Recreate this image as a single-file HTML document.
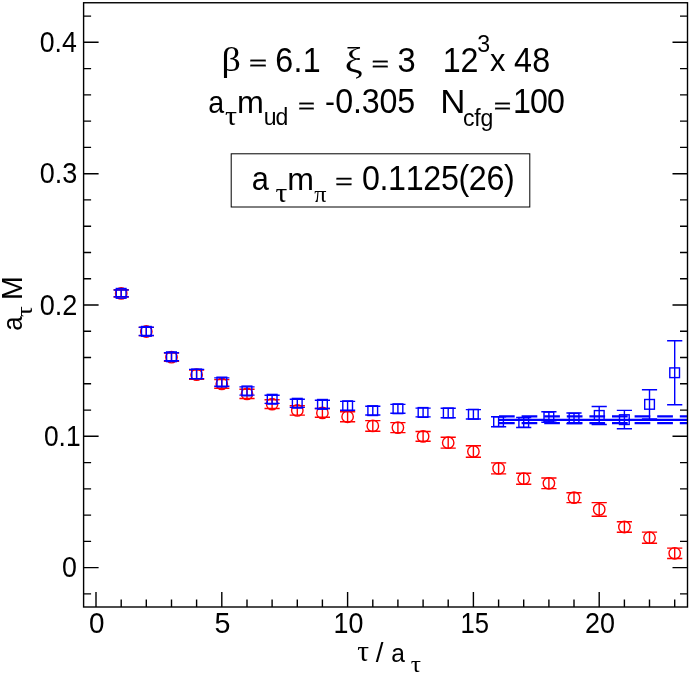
<!DOCTYPE html>
<html><head><meta charset="utf-8"><title>plot</title>
<style>
html,body{margin:0;padding:0;background:#fff;}
svg{display:block;will-change:transform;}
text{font-family:"Liberation Sans",sans-serif;fill:#000;font-kerning:none;}
.sy{font-family:"Liberation Serif",serif;}
.eq{stroke:#000;stroke-width:0.55px;}
</style></head><body>
<svg width="692" height="675" viewBox="0 0 692 675">
<rect x="0" y="0" width="692" height="675" fill="#fff"/>
<g stroke="#ff0000" stroke-width="1.4" fill="none">
<path d="M121.2 289.8V297.0M113.6 289.8H128.8M113.6 297.0H128.8"/>
<circle cx="121.2" cy="293.4" r="5.7"/>
<path d="M146.3 327.4V335.6M138.7 327.4H153.9M138.7 335.6H153.9"/>
<circle cx="146.3" cy="331.5" r="5.7"/>
<path d="M171.5 353.0V361.4M163.9 353.0H179.1M163.9 361.4H179.1"/>
<circle cx="171.5" cy="357.2" r="5.7"/>
<path d="M196.6 370.1V379.3M189.0 370.1H204.2M189.0 379.3H204.2"/>
<circle cx="196.6" cy="374.7" r="5.7"/>
<path d="M221.8 379.6V388.2M214.2 379.6H229.4M214.2 388.2H229.4"/>
<circle cx="221.8" cy="383.9" r="5.7"/>
<path d="M247.0 389.3V398.5M239.4 389.3H254.6M239.4 398.5H254.6"/>
<circle cx="247.0" cy="393.9" r="5.7"/>
<path d="M272.1 399.7V408.5M264.5 399.7H279.7M264.5 408.5H279.7"/>
<circle cx="272.1" cy="404.1" r="5.7"/>
<path d="M297.3 405.7V415.1M289.7 405.7H304.9M289.7 415.1H304.9"/>
<circle cx="297.3" cy="410.4" r="5.7"/>
<path d="M322.4 408.5V417.3M314.8 408.5H330.0M314.8 417.3H330.0"/>
<circle cx="322.4" cy="412.9" r="5.7"/>
<path d="M347.6 411.8V421.8M340.0 411.8H355.2M340.0 421.8H355.2"/>
<circle cx="347.6" cy="416.8" r="5.7"/>
<path d="M372.8 420.6V431.2M365.2 420.6H380.4M365.2 431.2H380.4"/>
<circle cx="372.8" cy="425.9" r="5.7"/>
<path d="M397.9 422.6V432.6M390.3 422.6H405.5M390.3 432.6H405.5"/>
<circle cx="397.9" cy="427.6" r="5.7"/>
<path d="M423.1 431.5V441.3M415.5 431.5H430.7M415.5 441.3H430.7"/>
<circle cx="423.1" cy="436.4" r="5.7"/>
<path d="M448.2 437.3V448.1M440.6 437.3H455.8M440.6 448.1H455.8"/>
<circle cx="448.2" cy="442.7" r="5.7"/>
<path d="M473.4 445.7V457.3M465.8 445.7H481.0M465.8 457.3H481.0"/>
<circle cx="473.4" cy="451.5" r="5.7"/>
<path d="M498.6 462.9V473.9M491.0 462.9H506.2M491.0 473.9H506.2"/>
<circle cx="498.6" cy="468.4" r="5.7"/>
<path d="M523.7 473.2V484.2M516.1 473.2H531.3M516.1 484.2H531.3"/>
<circle cx="523.7" cy="478.7" r="5.7"/>
<path d="M548.9 478.0V488.6M541.3 478.0H556.5M541.3 488.6H556.5"/>
<circle cx="548.9" cy="483.3" r="5.7"/>
<path d="M574.0 492.8V502.6M566.4 492.8H581.6M566.4 502.6H581.6"/>
<circle cx="574.0" cy="497.7" r="5.7"/>
<path d="M599.2 502.6V516.2M591.6 502.6H606.8M591.6 516.2H606.8"/>
<circle cx="599.2" cy="509.4" r="5.7"/>
<path d="M624.4 521.8V532.2M616.8 521.8H632.0M616.8 532.2H632.0"/>
<circle cx="624.4" cy="527.0" r="5.7"/>
<path d="M649.5 532.1V543.3M641.9 532.1H657.1M641.9 543.3H657.1"/>
<circle cx="649.5" cy="537.7" r="5.7"/>
<path d="M674.7 548.1V558.5M667.1 548.1H682.3M667.1 558.5H682.3"/>
<circle cx="674.7" cy="553.3" r="5.7"/>
</g>
<g stroke="#0000ff" stroke-width="1.4" fill="none">
<path d="M121.2 290.0V296.8M113.6 290.0H128.8M113.6 296.8H128.8"/>
<rect x="116.3" y="288.5" width="9.7" height="9.7"/>
<path d="M146.3 327.3V335.5M138.7 327.3H153.9M138.7 335.5H153.9"/>
<rect x="141.5" y="326.5" width="9.7" height="9.7"/>
<path d="M171.5 352.8V360.8M163.9 352.8H179.1M163.9 360.8H179.1"/>
<rect x="166.6" y="351.9" width="9.7" height="9.7"/>
<path d="M196.6 369.4V378.6M189.0 369.4H204.2M189.0 378.6H204.2"/>
<rect x="191.8" y="369.1" width="9.7" height="9.7"/>
<path d="M221.8 377.9V386.3M214.2 377.9H229.4M214.2 386.3H229.4"/>
<rect x="217.0" y="377.2" width="9.7" height="9.7"/>
<path d="M247.0 386.9V395.1M239.4 386.9H254.6M239.4 395.1H254.6"/>
<rect x="242.1" y="386.1" width="9.7" height="9.7"/>
<path d="M272.1 395.2V403.4M264.5 395.2H279.7M264.5 403.4H279.7"/>
<rect x="267.3" y="394.4" width="9.7" height="9.7"/>
<path d="M297.3 399.2V407.4M289.7 399.2H304.9M289.7 407.4H304.9"/>
<rect x="292.4" y="398.4" width="9.7" height="9.7"/>
<path d="M322.4 400.3V408.5M314.8 400.3H330.0M314.8 408.5H330.0"/>
<rect x="317.6" y="399.5" width="9.7" height="9.7"/>
<path d="M347.6 401.4V410.2M340.0 401.4H355.2M340.0 410.2H355.2"/>
<rect x="342.8" y="400.9" width="9.7" height="9.7"/>
<path d="M372.8 406.2V415.0M365.2 406.2H380.4M365.2 415.0H380.4"/>
<rect x="367.9" y="405.8" width="9.7" height="9.7"/>
<path d="M397.9 404.4V413.2M390.3 404.4H405.5M390.3 413.2H405.5"/>
<rect x="393.1" y="403.9" width="9.7" height="9.7"/>
<path d="M423.1 408.1V416.9M415.5 408.1H430.7M415.5 416.9H430.7"/>
<rect x="418.2" y="407.6" width="9.7" height="9.7"/>
<path d="M448.2 408.2V417.8M440.6 408.2H455.8M440.6 417.8H455.8"/>
<rect x="443.4" y="408.1" width="9.7" height="9.7"/>
<path d="M473.4 409.6V419.0M465.8 409.6H481.0M465.8 419.0H481.0"/>
<rect x="468.5" y="409.4" width="9.7" height="9.7"/>
<path d="M498.6 416.7V426.7M491.0 416.7H506.2M491.0 426.7H506.2"/>
<rect x="493.7" y="416.8" width="9.7" height="9.7"/>
<path d="M523.7 417.5V427.5M516.1 417.5H531.3M516.1 427.5H531.3"/>
<rect x="518.9" y="417.6" width="9.7" height="9.7"/>
<path d="M548.9 411.7V422.3M541.3 411.7H556.5M541.3 422.3H556.5"/>
<rect x="544.0" y="412.1" width="9.7" height="9.7"/>
<path d="M574.0 413.0V423.6M566.4 413.0H581.6M566.4 423.6H581.6"/>
<rect x="569.2" y="413.4" width="9.7" height="9.7"/>
<path d="M599.2 406.5V424.5M591.6 406.5H606.8M591.6 424.5H606.8"/>
<rect x="594.4" y="410.6" width="9.7" height="9.7"/>
<path d="M624.4 410.4V428.8M616.8 410.4H632.0M616.8 428.8H632.0"/>
<rect x="619.5" y="414.8" width="9.7" height="9.7"/>
<path d="M649.5 389.8V419.0M641.9 389.8H657.1M641.9 419.0H657.1"/>
<rect x="644.7" y="399.5" width="9.7" height="9.7"/>
<path d="M674.7 340.8V404.8M667.1 340.8H682.3M667.1 404.8H682.3"/>
<rect x="669.8" y="367.9" width="9.7" height="9.7"/>
</g>
<g stroke="#0000ff" stroke-width="2.2" fill="none">
<path d="M498.6 419.8H687.5"/>
<path d="M499.0 416.4H687.5M499.0 423.2H687.5" stroke-dasharray="15.7 6.9"/>
</g>
<g stroke="#000" stroke-width="1.4" fill="none">
<rect x="83.6" y="2.75" width="603.9" height="604.25"/>
<path d="M83.6 593.9h7.5M687.5 593.9h-7.5M83.6 567.6h15M687.5 567.6h-15M83.6 541.4h7.5M687.5 541.4h-7.5M83.6 515.1h7.5M687.5 515.1h-7.5M83.6 488.9h7.5M687.5 488.9h-7.5M83.6 462.6h7.5M687.5 462.6h-7.5M83.6 436.3h15M687.5 436.3h-15M83.6 410.1h7.5M687.5 410.1h-7.5M83.6 383.8h7.5M687.5 383.8h-7.5M83.6 357.5h7.5M687.5 357.5h-7.5M83.6 331.3h7.5M687.5 331.3h-7.5M83.6 305.0h15M687.5 305.0h-15M83.6 278.7h7.5M687.5 278.7h-7.5M83.6 252.5h7.5M687.5 252.5h-7.5M83.6 226.2h7.5M687.5 226.2h-7.5M83.6 199.9h7.5M687.5 199.9h-7.5M83.6 173.7h15M687.5 173.7h-15M83.6 147.4h7.5M687.5 147.4h-7.5M83.6 121.1h7.5M687.5 121.1h-7.5M83.6 94.9h7.5M687.5 94.9h-7.5M83.6 68.6h7.5M687.5 68.6h-7.5M83.6 42.3h15M687.5 42.3h-15M83.6 16.1h7.5M687.5 16.1h-7.5M96.0 607.0v-15M121.2 607.0v-7.5M146.3 607.0v-7.5M171.5 607.0v-7.5M196.6 607.0v-7.5M221.8 607.0v-15M247.0 607.0v-7.5M272.1 607.0v-7.5M297.3 607.0v-7.5M322.4 607.0v-7.5M347.6 607.0v-15M372.8 607.0v-7.5M397.9 607.0v-7.5M423.1 607.0v-7.5M448.2 607.0v-7.5M473.4 607.0v-15M498.6 607.0v-7.5M523.7 607.0v-7.5M548.9 607.0v-7.5M574.0 607.0v-7.5M599.2 607.0v-15M624.4 607.0v-7.5M649.5 607.0v-7.5M674.7 607.0v-7.5"/>
</g>
<text transform="translate(39.69 314.50) scale(0.9358 1.0000)" font-size="29">0.2</text>
<text transform="translate(39.70 183.18) scale(0.9312 1.0000)" font-size="29">0.3</text>
<text transform="translate(39.71 51.85) scale(0.9209 1.0000)" font-size="29">0.4</text>
<text transform="translate(43.92 445.82) scale(0.9100 1.0000)" font-size="29">0.1</text>
<text transform="translate(62.00 577.15) scale(0.9233 1.0000)" font-size="29">0</text>
<text transform="translate(89.06 633.30) scale(0.9594 1.0000)" font-size="29">0</text>
<text transform="translate(214.50 633.30) scale(0.9891 1.0000)" font-size="29">5</text>
<text transform="translate(333.50 633.30) scale(0.9269 1.0000)" font-size="29">10</text>
<text transform="translate(460.60 633.30) scale(0.8845 1.0000)" font-size="29">15</text>
<text transform="translate(585.09 633.30) scale(0.9304 1.0000)" font-size="29">20</text>
<text class="sy" transform="translate(357.21 661.47) scale(1.0668 1.0473)" font-size="27.5">τ</text>
<text transform="translate(375.75 661.88) scale(1.0078 1.0002)" font-size="27.5">/</text>
<text transform="translate(391.21 661.50) scale(0.8920 0.9492)" font-size="27.5">a</text>
<text class="sy" transform="translate(410.69 671.93) scale(1.2713 1.1413)" font-size="20">τ</text>
<g transform="translate(21.5 0) rotate(-90)">
<text transform="translate(-330.65 0.48) scale(0.9415 1.0023)" font-size="27.5">a</text>
<text class="sy" transform="translate(-316.95 10.72) scale(1.3551 1.1840)" font-size="20">τ</text>
<text transform="translate(-299.99 0.55) scale(1.0383 1.0677)" font-size="27.5">M</text>
</g>
<text class="sy" transform="translate(221.60 70.91) scale(1.1100 0.9920)" font-size="34.3">β</text>
<text class="eq" transform="translate(249.08 70.29) scale(0.9061 0.5971)" font-size="34.3">=</text>
<text style="letter-spacing:0.30px" transform="translate(275.21 71.50) scale(0.9400 1.0000)" font-size="34.3">6.1</text>
<text class="sy" transform="translate(344.69 71.79) scale(1.1680 1.0490)" font-size="34.3">ξ</text>
<text class="eq" transform="translate(371.43 70.54) scale(0.8761 0.6061)" font-size="34.3">=</text>
<text transform="translate(397.50 71.71) scale(0.9531 1.0212)" font-size="34.3">3</text>
<text style="letter-spacing:-0.09px" transform="translate(442.69 71.50) scale(0.9400 1.0000)" font-size="34.3">12</text>
<text transform="translate(477.17 52.22) scale(0.9470 0.9570)" font-size="24.5">3</text>
<text transform="translate(489.90 70.85) scale(0.8965 0.9271)" font-size="34.3">x</text>
<text style="letter-spacing:0.30px" transform="translate(514.11 71.50) scale(0.9400 1.0000)" font-size="34.3">48</text>
<text transform="translate(208.13 112.75) scale(0.8343 0.9100)" font-size="34.3">a</text>
<text class="sy" transform="translate(224.89 124.98) scale(1.2202 1.1146)" font-size="24.5">τ</text>
<text transform="translate(237.11 112.65) scale(0.9404 0.8940)" font-size="34.3">m</text>
<text style="letter-spacing:-1.10px" transform="translate(263.65 125.30) scale(0.9400 1.0000)" font-size="24.5">ud</text>
<text class="eq" transform="translate(298.07 112.89) scale(0.8521 0.6152)" font-size="34.3">=</text>
<text transform="translate(325.02 112.30) scale(0.8717 0.9000)" font-size="34.3">-</text>
<text style="letter-spacing:-0.20px" transform="translate(335.29 113.00) scale(0.9400 1.0000)" font-size="34.3">0.305</text>
<text transform="translate(440.29 112.55) scale(1.0178 0.9789)" font-size="34.3">N</text>
<text style="letter-spacing:-0.30px" transform="translate(463.07 125.60) scale(0.9400 1.0000)" font-size="24.5">cfg</text>
<text class="eq" transform="translate(493.73 112.59) scale(0.8761 0.5790)" font-size="34.3">=</text>
<text style="letter-spacing:-0.89px" transform="translate(512.89 113.00) scale(0.9400 1.0000)" font-size="34.3">100</text>
<rect x="231.2" y="153.8" width="298.6" height="53.2" fill="#fff" stroke="#000" stroke-width="1"/>
<text transform="translate(251.64 190.13) scale(0.8968 0.9419)" font-size="34.3">a</text>
<text class="sy" transform="translate(275.51 202.28) scale(1.1974 1.1407)" font-size="24.5">τ</text>
<text transform="translate(287.32 189.95) scale(0.9362 0.8994)" font-size="34.3">m</text>
<text class="sy" transform="translate(314.22 201.92) scale(0.9860 0.9752)" font-size="24.5">π</text>
<text class="eq" transform="translate(335.14 188.75) scale(0.8701 0.6242)" font-size="34.3">=</text>
<text style="letter-spacing:-0.35px" transform="translate(361.89 190.00) scale(0.9400 1.0000)" font-size="34.3">0.1125(26)</text>
</svg></body></html>
